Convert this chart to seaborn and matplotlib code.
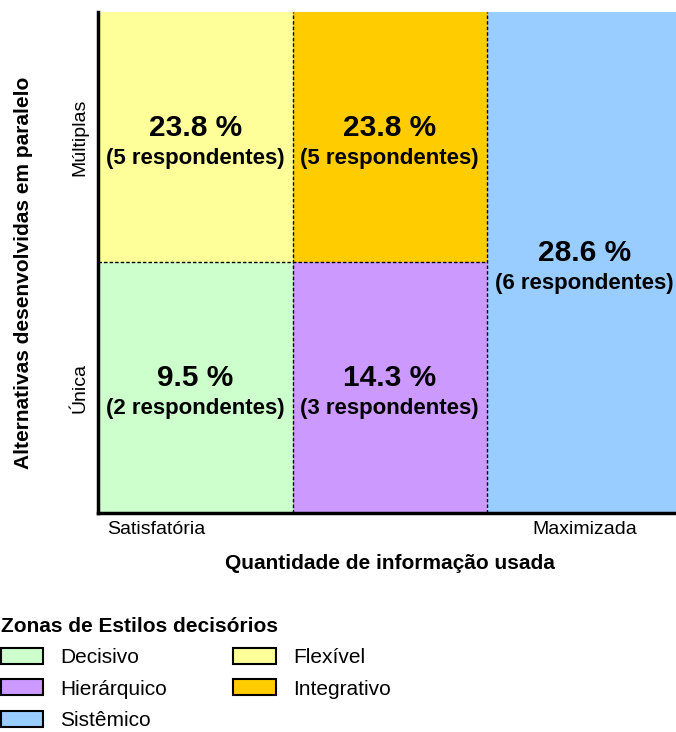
import matplotlib
matplotlib.use("Agg")
import matplotlib.pyplot as plt
from matplotlib.patches import Patch
import pandas as pd
import seaborn as sns

# ---- data ----
zones = ["Decisivo", "Hierárquico", "Sistêmico", "Flexível", "Integrativo"]
info_level = [0, 1, 2, 0, 1]          # column: quantidade de informação
alt_level = [0, 0, 0, 1, 1]           # row base: 0 = Única, 1 = Múltiplas
row_span = [1, 1, 2, 1, 1]            # Sistêmico spans both rows
percent = [9.5, 14.3, 28.6, 23.8, 23.8]
respondents = [2, 3, 6, 5, 5]
zone_colors = ["#CCFFCC", "#CC99FF", "#99CCFF", "#FFFF99", "#FFCC00"]

x_tick_labels = ["Satisfatória", "Maximizada"]
y_tick_labels = ["Única", "Múltiplas"]
x_title = "Quantidade de informação usada"
y_title = "Alternativas desenvolvidas em paralelo"
legend_title = "Zonas de Estilos decisórios"

df = pd.DataFrame({"zone": zones, "info": info_level, "alt": alt_level,
                   "span": row_span, "pct": percent, "n": respondents})
palette = dict(zip(zones, zone_colors))

sns.set_style("white")
plt.rcParams["font.family"] = ["Liberation Sans", "DejaVu Sans"]
plt.rcParams["text.color"] = "black"
plt.rcParams["axes.labelcolor"] = "black"
plt.rcParams["xtick.color"] = "black"
plt.rcParams["ytick.color"] = "black"

fig = plt.figure(figsize=(6.76, 7.32), dpi=100)
ax = fig.add_axes([98 / 676, 1 - 513 / 732, 583.5 / 676, 501 / 732])

for base in sorted(df["alt"].unique()):
    sub = df[df["alt"] == base]
    sns.barplot(data=sub, x="info", y="span", hue="zone", order=[0, 1, 2],
                hue_order=zones, palette=palette, dodge=False, width=1,
                saturation=1, errorbar=None, legend=False, ax=ax,
                bottom=base, linewidth=0)

ax.set_xlim(-0.5, 2.5)
ax.set_ylim(0, 2)

# dashed separators between zones
dash = (0, (2.5, 1.5))
ax.axvline(0.5, color="black", lw=1, ls=dash)
ax.axvline(1.5, color="black", lw=1, ls=dash)
ax.plot([-0.5, 1.5], [1, 1], color="black", lw=1, ls=dash)

# cell labels
for _, r in df.iterrows():
    cx = r["info"]
    cy = r["alt"] + r["span"] / 2
    ax.annotate(f"{r['pct']:.1f} %", (cx, cy), xytext=(0, 7), textcoords="offset points",
                ha="center", va="center", fontsize=21.5, fontweight="bold", color="black")
    ax.annotate(f"({r['n']} respondentes)", (cx, cy), xytext=(0, -15),
                textcoords="offset points", ha="center", va="center",
                fontsize=16, fontweight="bold", color="black")

# axes styling
for s in ["top", "right"]:
    ax.spines[s].set_visible(False)
for s in ["left", "bottom"]:
    ax.spines[s].set_color("black")
    ax.spines[s].set_linewidth(2.5)

ax.set_xticks([-0.2, 2.0])
ax.set_xticklabels(x_tick_labels, fontsize=14)
ax.set_yticks([0.5, 1.5])
ax.set_yticklabels(y_tick_labels, fontsize=14, rotation=90, va="center")
ax.tick_params(axis="x", length=0, pad=6)
ax.tick_params(axis="y", length=0, pad=7)

ax.set_xlabel(x_title, fontsize=15, fontweight="bold")
ax.xaxis.set_label_coords(0.5, -0.082)
ax.set_ylabel(y_title, fontsize=15, fontweight="bold")
ax.yaxis.set_label_coords(-0.112, 0.48)

handles = [Patch(facecolor=c, edgecolor="black", linewidth=1.5) for c in zone_colors]
fig.legend(handles, zones, loc="upper left", bbox_to_anchor=(0.001, 0.157),
           ncol=2, frameon=False, fontsize=15, borderpad=0, borderaxespad=0,
           handlelength=2.05, handleheight=0.8, handletextpad=0.8,
           columnspacing=3.2, labelspacing=0.58,
           title=legend_title, title_fontproperties={"weight": "bold", "size": 15},
           alignment="left")

fig.savefig("out.png", dpi=100)
